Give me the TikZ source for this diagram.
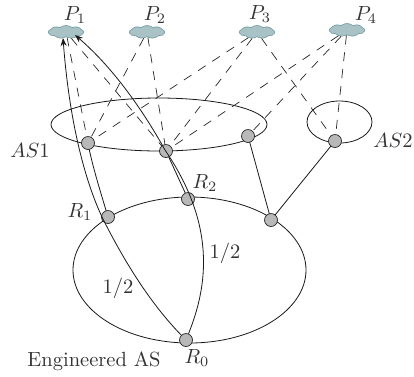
\documentclass[tikz,border=0pt]{standalone}
\usetikzlibrary{shapes.symbols,arrows.meta}
\definecolor{cloudfill}{HTML}{A9C2C6}
\definecolor{cloudline}{HTML}{6F9AA0}
\definecolor{txt}{HTML}{333333}
\tikzset{
 routernode/.style={circle,draw=black!85,fill=black!28,line width=0.7pt,minimum size=13pt,inner sep=0pt},
 cloudnode/.style={cloud,cloud puffs=9,cloud puff arc=75,aspect=2.8,draw=cloudline,fill=cloudfill,line width=0.6pt,minimum width=35pt,minimum height=13pt,inner sep=0pt},
 lab/.style={text=txt,scale=2.05,transform shape,inner sep=0pt},
 dashlink/.style={black!85,line width=0.7pt,dash pattern=on 9pt off 8pt},
 solidlink/.style={black!90,line width=0.8pt},
 arrowlink/.style={solidlink,-{Stealth[length=8pt,width=6pt]}},
 ringshape/.style={black!90,line width=0.8pt}
}
\begin{document}
\begin{tikzpicture}[x=1pt,y=-1pt]
\useasboundingbox (0,0) rectangle (414,376);
\draw[ringshape] (159,124.5) ellipse [x radius=108,y radius=26.5];
\draw[ringshape] (339.5,122) ellipse [x radius=32.5,y radius=21];
\draw[ringshape] (189.5,270) ellipse [x radius=116.5,y radius=73];
\node[cloudnode] (p1) at (66,32) {};
\node[cloudnode] (p2) at (147,32) {};
\node[cloudnode] (p3) at (257,32) {};
\node[cloudnode] (p4) at (347,30) {};
\coordinate (ca1) at (88,143);
\coordinate (ca2) at (166,151);
\coordinate (ca3) at (248,136);
\coordinate (ca4) at (335,141);
\coordinate (cr1) at (108,217);
\coordinate (cr2) at (188,199);
\coordinate (cr3) at (271,220);
\foreach \s/\t in {p1/ca1,p1/ca2,p2/ca1,p2/ca2,p3/ca1,p3/ca2,p3/ca4,p4/ca2,p4/ca3,p4/ca4}
  \draw[dashlink] (\s) -- (\t);
\draw[solidlink] (ca3) -- (cr3);
\draw[solidlink] (ca4) -- (cr3);
\draw[solidlink] (ca1) .. controls (92,165) and (100,190) .. (cr1);
\draw[solidlink] (ca2) -- (cr2);
\node[routernode] (a1) at (ca1) {};
\node[routernode] (a2) at (ca2) {};
\node[routernode] (a3) at (ca3) {};
\node[routernode] (a4) at (ca4) {};
\node[routernode] (r1) at (cr1) {};
\node[routernode] (r2) at (cr2) {};
\node[routernode] (r3) at (cr3) {};
\node[routernode] (r0) at (186,340) {};
\draw[arrowlink] (r0) .. controls (150,303) and (125,262) .. (105,223) .. controls (88,190) and (70,130) .. (63,38);
\draw[arrowlink] (r0) .. controls (208,285) and (216,225) .. (165,150) .. controls (140,105) and (110,65) .. (75,35);
\node[lab] (lp1) at (75,15) {$P_1$};
\node[lab] (lp2) at (155,15) {$P_2$};
\node[lab] (lp3) at (260,14) {$P_3$};
\node[lab] (lp4) at (366,15) {$P_4$};
\node[lab] (las1) at (30,150) {$AS1$};
\node[lab] (las2) at (393,140) {$AS2$};
\node[lab] (lr1) at (80,212) {$R_1$};
\node[lab] (lr2) at (205,183) {$R_2$};
\node[lab] (lr0) at (197,358) {$R_0$};
\node[lab] (h1) at (118,288) {$1/2$};
\node[lab] (h2) at (225,253) {$1/2$};
\node[lab] (eng) at (94,361) {Engineered AS};
\end{tikzpicture}
\end{document}
